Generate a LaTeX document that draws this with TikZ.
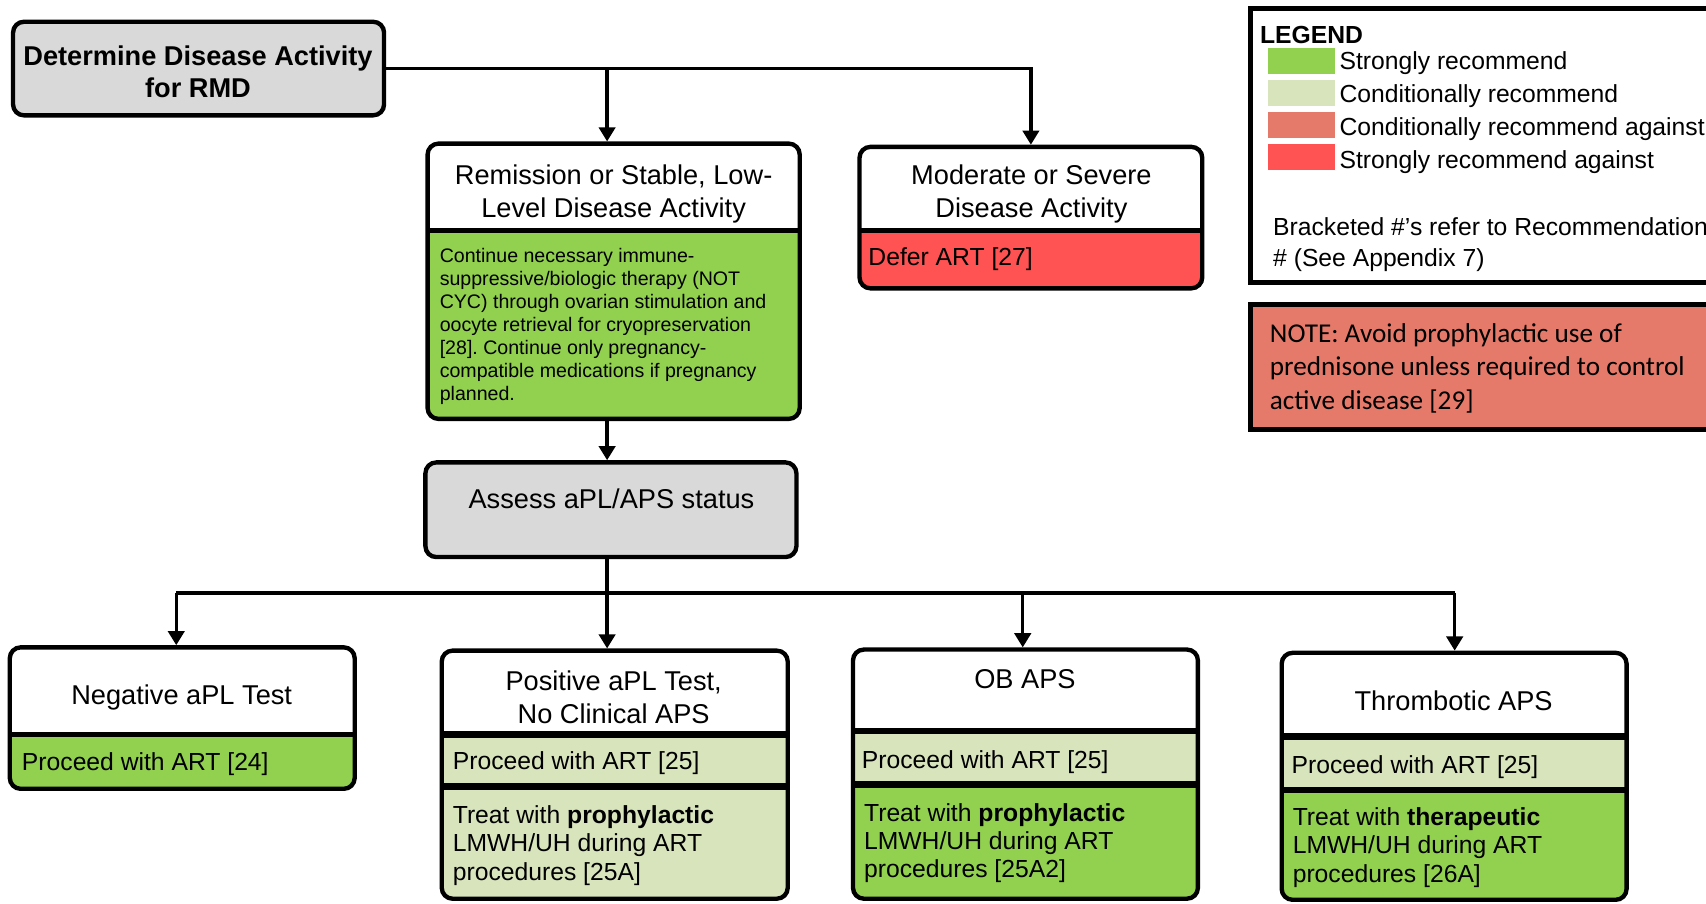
\documentclass[tikz,border=0pt]{standalone}
\usepackage{fontspec}
\setmainfont{Liberation Sans}
\newfontfamily\notefont{Carlito}
\usetikzlibrary{arrows.meta,fit}
\definecolor{boxgray}{HTML}{D9D9D9}
\definecolor{sgreen}{HTML}{92D050}
\definecolor{cgreen}{HTML}{D8E4BC}
\definecolor{cred}{HTML}{E67A6A}
\definecolor{sred}{HTML}{FF5252}
\frenchspacing
\begin{document}
\begin{tikzpicture}[x=1pt, y=-1pt,
    boxframe/.style={draw, line width=4pt, rounded corners=10pt, inner sep=0pt},
    link/.style={line width=3pt},
    arr/.style={link, -{Triangle[width=15pt,length=13pt]}},
    headtext/.style={font=\fontsize{25}{30}\selectfont, align=center, yshift=-2pt},
    bodytext/.style={font=\fontsize{18}{21}\selectfont, align=left, anchor=west, inner sep=0pt, yshift=-2pt},
    proceed/.style={font=\fontsize{22.7}{26}\selectfont, align=left, anchor=west, inner sep=0pt, yshift=-2pt},
    legtext/.style={font=\fontsize{22.7}{26}\selectfont, anchor=west, inner sep=0pt, yshift=-2pt}]
    \fill[white] (0,0) rectangle (1568,830);
    \useasboundingbox (0,0) rectangle (1568,830);
    % coloured parts of the boxes
    \foreach \xa/\ya/\xb/\yb/\ys/\col in {12/20/353/106/20/boxgray, 393/132/735/385/212/sgreen,
        790/135/1105/265/212/sred, 391/425/732/512/425/boxgray, 9/595/326/725/675/sgreen,
        406/598/724/826/675/cgreen, 784/597/1101/826/672/cgreen, 784/597/1101/826/721/sgreen,
        1178/600/1495/827/677/cgreen, 1178/600/1495/827/726/sgreen} {
        \begin{scope}
            \clip[rounded corners=10pt] (\xa,\ya) rectangle (\xb,\yb);
            \fill[\col] (\xa,\ys) rectangle (\xb,\yb);
        \end{scope}
    }
    \foreach \n/\xa/\ya/\xb/\yb in {det/12/20/353/106, remis/393/132/735/385, moder/790/135/1105/265,
        assess/391/425/732/512, neg/9/595/326/725, pos/406/598/724/826, ob/784/597/1101/826,
        thr/1178/600/1495/827} {
        \node[boxframe, fit={(\xa,\ya) (\xb,\yb)}] (\n) {};
    }
    \foreach \xa/\xb/\y/\w in {393/735/212/5, 790/1105/212/5, 9/326/675/5, 406/724/675/6,
        406/724/723/7, 784/1101/672/6, 784/1101/721/6, 1178/1495/677/6, 1178/1495/726/6} {
        \draw[line width=\w pt] (\xa,\y) -- (\xb,\y);
    }
    % texts
    \node[headtext, font=\bfseries\fontsize{25}{30}\selectfont] (det-txt) at (182,64) {Determine Disease Activity\\for RMD};
    \node[headtext] (remis-txt) at (564,176) {Remission or Stable, Low-\\Level Disease Activity};
    \node[bodytext] (remis-body) at (404,298) {Continue necessary immune-\\suppressive/biologic therapy (NOT\\CYC) through ovarian stimulation and\\oocyte retrieval for cryopreservation\\{}[28]. Continue only pregnancy-\\compatible medications if pregnancy\\planned.};
    \node[headtext] (moder-txt) at (948,176) {Moderate or Severe\\Disease Activity};
    \node[proceed] (moder-body) at (798,236) {Defer ART [27]};
    \node[headtext] (assess-txt) at (562,456) {Assess aPL/APS status};
    \node[headtext] (neg-txt) at (167,639) {Negative aPL Test};
    \node[proceed] (neg-body) at (20,700) {Proceed with ART [24]};
    \node[headtext] (pos-txt) at (564,639) {Positive aPL Test,\\No Clinical APS};
    \node[proceed] (pos-row) at (416,699) {Proceed with ART [25]};
    \node[proceed] (pos-body) at (416,775) {Treat with \textbf{prophylactic}\\LMWH/UH during ART\\procedures [25A]};
    \node[headtext] (ob-txt) at (942,622) {OB APS};
    \node[proceed] (ob-row) at (792,698) {Proceed with ART [25]};
    \node[proceed] (ob-body) at (794,773) {Treat with \textbf{prophylactic}\\LMWH/UH during ART\\procedures [25A2]};
    \node[headtext] (thr-txt) at (1336,642) {Thrombotic APS};
    \node[proceed] (thr-row) at (1187,703) {Proceed with ART [25]};
    \node[proceed] (thr-body) at (1188,777) {Treat with \textbf{therapeutic}\\LMWH/UH during ART\\procedures [26A]};
    % legend and note
    \node[draw, line width=4.5pt, inner sep=0pt, fit={(1149.5,8) (1585,260)}] (legend) {};
    \node[legtext, font=\bfseries\fontsize{22.7}{26}\selectfont] (leg-title) at (1158,30) {LEGEND};
    \foreach \i/\col/\txt in {0/sgreen/Strongly recommend, 1/cgreen/Conditionally recommend,
        2/cred/Conditionally recommend against, 3/sred/Strongly recommend against} {
        \fill[\col] (1165,44+29.5*\i) rectangle (1227,68+29.5*\i);
        \node[legtext] (leg-\i) at (1231,56+30.3*\i) {\txt};
    }
    \node[legtext] (leg-ref) at (1170,206) {Bracketed \#'s refer to Recommendation};
    \node[legtext] (leg-see) at (1170,237.5) {\# (See Appendix 7)};
    \node[draw, line width=4.5pt, fill=cred, inner sep=0pt, fit={(1149.5,280) (1585,395)}] (note) {};
    \node[anchor=west, align=left, inner sep=0pt, yshift=-2pt, font=\notefont\fontsize{25}{30.5}\selectfont] (note-txt)
        at (1167,336.5) {NOTE: Avoid prophylactic use of\\prednisone unless required to control\\active disease [29]};
    % connectors
    \coordinate (fork) at (558,63);
    \draw[arr] (det.east) -| (moder.north);
    \draw[arr] (fork) -- (fork |- remis.north);
    \draw[arr] (fork |- remis.south) -- (fork |- assess.north);
    \coordinate (bus) at (558,545);
    \draw[link] (fork |- assess.south) -- (bus);
    \foreach \n/\x in {neg/162, pos/558, ob/940, thr/1337} {
        \coordinate (drop-\n) at (\x,545);
    }
    \draw[link] (drop-neg) -- (drop-thr);
    \foreach \n in {neg, pos, ob, thr} {
        \draw[arr] (drop-\n) -- (drop-\n |- \n.north);
    }
\end{tikzpicture}
\end{document}
